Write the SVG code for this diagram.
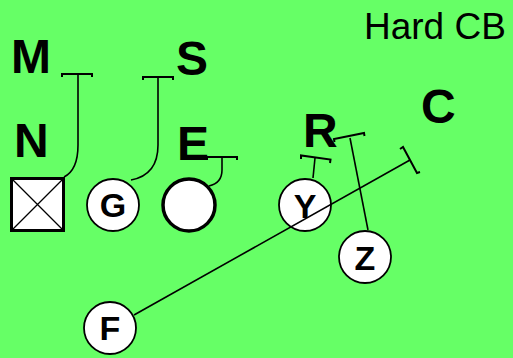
<svg xmlns="http://www.w3.org/2000/svg" width="513" height="358" viewBox="0 0 513 358">
<style>
.big{font-family:"Liberation Sans",Arial,sans-serif;font-weight:bold;font-size:48px;fill:#000}
.in{font-family:"Liberation Sans",Arial,sans-serif;font-weight:bold;font-size:34px;fill:#000;text-anchor:middle}
.title{font-family:"Liberation Sans",Arial,sans-serif;font-size:37px;fill:#000}
.pl{fill:#fff;stroke:#000;stroke-width:1.8}
.route{fill:none;stroke:#000;stroke-width:1.6}
.bar{fill:none;stroke:#000;stroke-width:2}
</style>
<rect width="513" height="358" fill="#66FF66"/>
<text class="title" x="364" y="39">Hard CB</text>
<g id="M"><text class="big" x="11" y="73">M</text></g>
<g id="S"><text class="big" x="176" y="75">S</text></g>
<g id="N"><text class="big" x="14" y="157">N</text>
<rect x="11.5" y="178.5" width="52" height="52" fill="#fff" stroke="#000" stroke-width="3"/>
<path d="M11.5 178.5L63.5 230.5M63.5 178.5L11.5 230.5" stroke="#000" stroke-width="1.3"/></g>
<g id="E"><text class="big" x="177" y="160">E</text>
<circle cx="189" cy="205" r="26" fill="#fff" stroke="#000" stroke-width="3.5"/></g>
<g id="R"><text class="big" x="303" y="147">R</text></g>
<g id="C"><text class="big" x="421" y="123">C</text></g>
<g id="G"><circle class="pl" cx="113" cy="205" r="26"/><text class="in" x="113" y="217">G</text></g>
<g id="Y"><circle class="pl" cx="305" cy="205" r="26"/><text class="in" x="305" y="218">Y</text></g>
<g id="Z"><circle class="pl" cx="365" cy="257" r="26"/><text class="in" x="365" y="270">Z</text></g>
<g id="F"><circle class="pl" cx="110" cy="328" r="26"/><text class="in" x="110" y="340">F</text></g>
<g id="connectors">
<path class="route" d="M64 177Q78 170 78 145L78 74"/>
<path class="bar" d="M62 77L62 74L92 74L92 77"/>
<path class="route" d="M131 180Q158 175 158 145L158 77"/>
<path class="bar" d="M143 80L143 77L173 77L173 80"/>
<path class="route" d="M209 186Q222 183 222 170L222 157"/>
<path class="bar" d="M207 160L207 157L237 157L237 160"/>
<path class="route" d="M313 178L315 158"/>
<path class="bar" d="M301 159L301 155.5L330.5 159.5L330 163"/>
<path class="route" d="M368 230L350 138"/>
<path class="bar" d="M334.5 142L334 139L364 133L364.5 136"/>
<path class="route" d="M134 315L410 160"/>
<path class="bar" d="M400 149L403 147L417 173L420 172"/>
</g>
</svg>
